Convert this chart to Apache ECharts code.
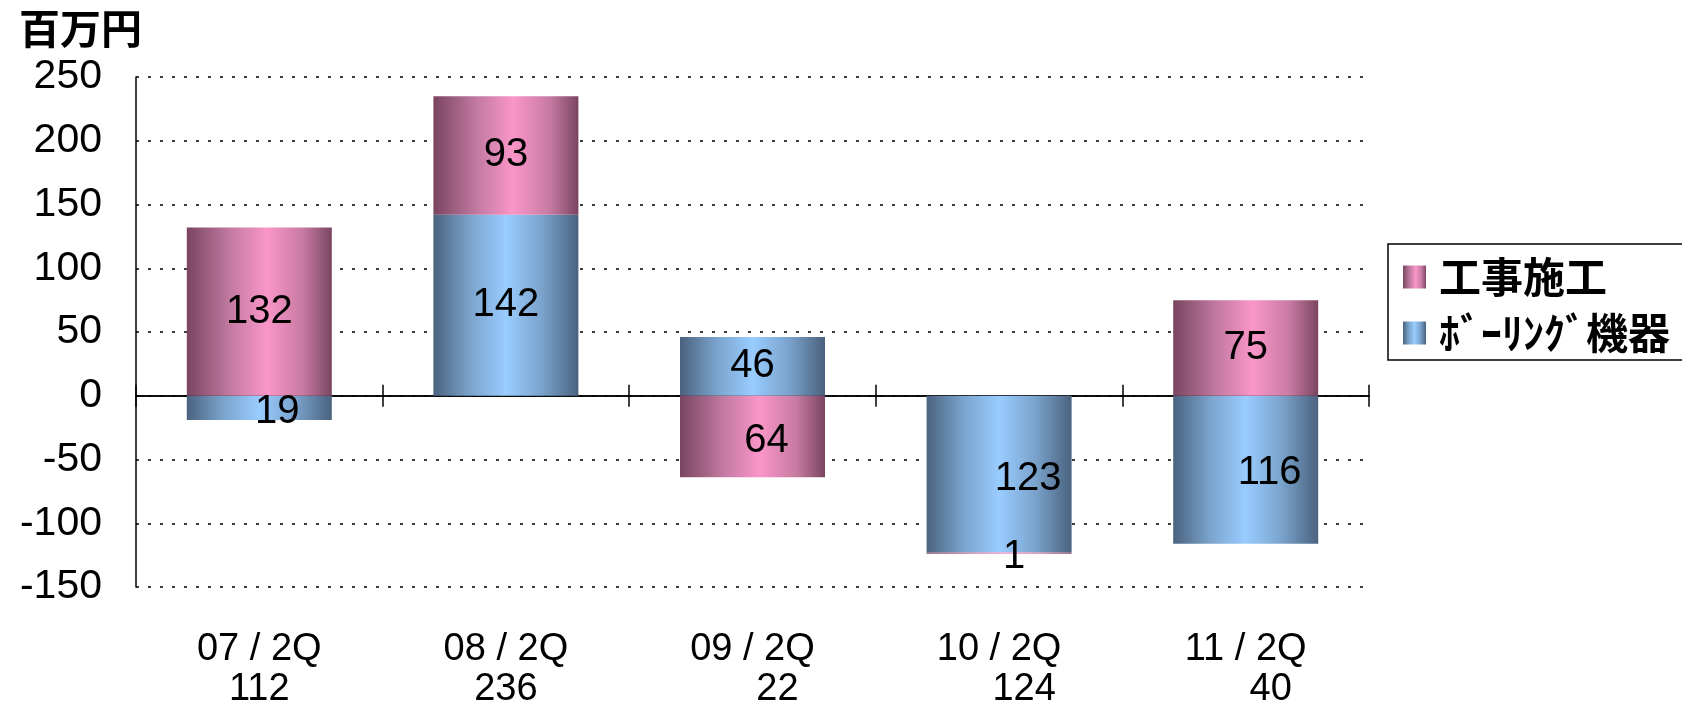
<!DOCTYPE html>
<html>
<head>
<meta charset="utf-8">
<script src="https://cdn.jsdelivr.net/npm/echarts@6/dist/echarts.min.js"></script>
<style>
  html, body { margin: 0; padding: 0; background: #fff; }
  #chart { width: 1682px; height: 707px; }
</style>
</head>
<body>
<div id="chart"></div>
<script>
// 四半期ごとの増減（百万円）
const categories = ['07 / 2Q', '08 / 2Q', '09 / 2Q', '10 / 2Q', '11 / 2Q']
const totals = [112, 236, 22, 124, 40]
const kouji = [132, 93, -64, -1, 75]         // 工事施工
const boring = [-19, 142, 46, -123, -116]    // ﾎﾞｰﾘﾝｸﾞ機器
const yTicks = { min: -150, max: 250, step: 50 }

// ラベル位置の微調整（元の図に合わせる）
const koujiNudge = { 2: [14, 4], 3: [15, 4] }
const boringNudge = { 0: [18, 4], 3: [29, 5], 4: [24, 3] }
const shiftedTotals = [2, 3, 4]

const NUM_FONT = '"Liberation Sans", Arial, sans-serif'
const JP_FONT = '"Noto Sans CJK JP", sans-serif'

const pinkFill = new echarts.graphic.LinearGradient(0, 0, 1, 0, [
  { offset: 0, color: '#7a4561' },
  { offset: 0.3, color: '#c27aa1' },
  { offset: 0.55, color: '#fa96c8' },
  { offset: 0.8, color: '#c87ba3' },
  { offset: 1, color: '#7a4561' },
])
const blueFill = new echarts.graphic.LinearGradient(0, 0, 1, 0, [
  { offset: 0, color: '#4a627e' },
  { offset: 0.25, color: '#7aa3cc' },
  { offset: 0.5, color: '#99ccff' },
  { offset: 0.75, color: '#7aa3cc' },
  { offset: 1, color: '#4a627e' },
])

const withNudge = (values, nudge) => values.map((v, i) => (
  nudge[i] ? { value: v, label: { offset: nudge[i] } } : v
))

const barLabel = {
  show: true,
  position: 'inside',
  color: '#000',
  fontSize: 40,
  fontFamily: NUM_FONT,
  formatter: p => Math.abs(p.value),
}

// 0 の線に重ねる目盛り付きの軸（上向き・下向き）
const zeroAxis = (position) => ({
  type: 'category',
  data: categories,
  position,
  axisLine: { show: true, onZero: true, onZeroAxisIndex: 0, lineStyle: { color: '#000', width: 1.5 } },
  axisTick: { show: true, length: 11, lineStyle: { color: '#000', width: 1.5 } },
  axisLabel: { show: false },
  splitLine: { show: false },
})

const chart = echarts.init(document.getElementById('chart'))

chart.setOption({
  animation: false,
  backgroundColor: '#fff',
  title: {
    text: '百万円',
    left: 14,
    top: 3,
    textStyle: { fontFamily: JP_FONT, fontSize: 41, fontWeight: 'bold', color: '#000' },
  },
  legend: {
    orient: 'vertical',
    left: 1388,
    top: 244,
    padding: [12, 60, 6, 15],
    itemGap: 14,
    itemWidth: 23,
    itemHeight: 23,
    icon: 'rect',
    borderColor: '#000',
    borderWidth: 1.5,
    data: ['工事施工', 'ﾎﾞｰﾘﾝｸﾞ機器'],
    textStyle: {
      fontFamily: JP_FONT,
      fontSize: 42,
      fontWeight: 'bold',
      color: '#000',
      lineHeight: 40,
      padding: [0, 0, 0, 8],
    },
  },
  grid: {
    left: 136,
    right: 313,
    top: 77,
    bottom: 120,
    containLabel: false,
    outerBoundsMode: 'none',
  },
  xAxis: [
    {
      type: 'category',
      data: categories,
      position: 'bottom',
      axisLine: { show: false, onZero: false },
      axisTick: { show: false },
      axisLabel: {
        margin: 43,
        color: '#000',
        fontFamily: NUM_FONT,
        formatter: (v, i) => `{c|${v}}\n{${shiftedTotals.includes(i) ? 's' : 'n'}|${totals[i]}}`,
        rich: {
          c: { fontSize: 38, lineHeight: 40, fontFamily: NUM_FONT, color: '#000' },
          n: { fontSize: 38, lineHeight: 40, fontFamily: NUM_FONT, color: '#000' },
          s: { fontSize: 38, lineHeight: 40, fontFamily: NUM_FONT, color: '#000', padding: [0, 0, 0, 50] },
        },
      },
    },
    zeroAxis('top'),
    zeroAxis('bottom'),
  ],
  yAxis: {
    type: 'value',
    min: yTicks.min,
    max: yTicks.max,
    interval: yTicks.step,
    axisLine: { show: true, onZero: false, lineStyle: { color: '#000', width: 1.5 } },
    axisTick: { show: false },
    axisLabel: {
      margin: 34,
      color: '#000',
      fontSize: 41,
      fontFamily: NUM_FONT,
      showMinLabel: true,
      showMaxLabel: true,
    },
    splitLine: { lineStyle: { color: '#000', width: 1.5, type: [3, 9] } },
  },
  series: [
    {
      name: 'ﾎﾞｰﾘﾝｸﾞ機器',
      type: 'bar',
      stack: 'total',
      barWidth: 145,
      data: withNudge(boring, boringNudge),
      itemStyle: { color: blueFill },
      label: barLabel,
    },
    {
      name: '工事施工',
      type: 'bar',
      stack: 'total',
      barWidth: 145,
      data: withNudge(kouji, koujiNudge),
      itemStyle: { color: pinkFill },
      label: barLabel,
    },
  ],
})
</script>
</body>
</html>
